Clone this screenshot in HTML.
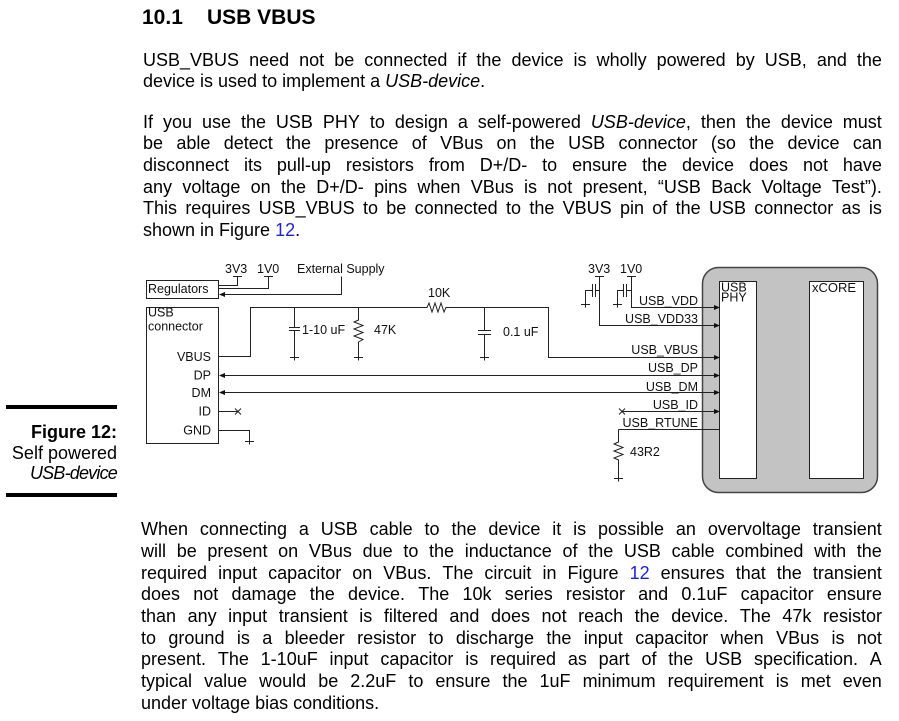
<!DOCTYPE html>
<html><head><meta charset="utf-8"><style>
html,body{margin:0;padding:0;background:#fff}
body{width:899px;height:721px;position:relative;overflow:hidden;font-family:"Liberation Sans",sans-serif;color:#000}
.t{position:absolute;font-weight:bold;font-size:21px;line-height:20px;top:8.2px;white-space:nowrap}
.l{position:absolute;left:143px;width:739px;font-size:18px;line-height:21.7px;height:21.7px;white-space:nowrap}
.p3{left:141px;width:741px}
.j{display:flex;justify-content:space-between}
.b{color:#1f1fd8}
.cap{position:absolute;left:0;width:117px;text-align:right;font-size:18px;line-height:21.7px;white-space:nowrap}
.bar{position:absolute;left:6px;width:111px;height:3.5px;background:#000}
svg{position:absolute;left:0;top:0}
</style></head><body>

<div class="t" style="left:142px">10.1</div>
<div class="t" style="left:207px">USB VBUS</div>

<div class="l j" style="top:49.6px"><span>USB_VBUS</span> <span>need</span> <span>not</span> <span>be</span> <span>connected</span> <span>if</span> <span>the</span> <span>device</span> <span>is</span> <span>wholly</span> <span>powered</span> <span>by</span> <span>USB,</span> <span>and</span> <span>the</span></div>
<div class="l" style="top:71.3px">device is used to implement a <i>USB-device</i>.</div>

<div class="l j" style="top:111.7px"><span>If</span> <span>you</span> <span>use</span> <span>the</span> <span>USB</span> <span>PHY</span> <span>to</span> <span>design</span> <span>a</span> <span>self-powered</span> <span><i>USB-device</i>,</span> <span>then</span> <span>the</span> <span>device</span> <span>must</span></div>
<div class="l j" style="top:133.4px"><span>be</span> <span>able</span> <span>detect</span> <span>the</span> <span>presence</span> <span>of</span> <span>VBus</span> <span>on</span> <span>the</span> <span>USB</span> <span>connector</span> <span>(so</span> <span>the</span> <span>device</span> <span>can</span></div>
<div class="l j" style="top:155.1px"><span>disconnect</span> <span>its</span> <span>pull-up</span> <span>resistors</span> <span>from</span> <span>D+/D-</span> <span>to</span> <span>ensure</span> <span>the</span> <span>device</span> <span>does</span> <span>not</span> <span>have</span></div>
<div class="l j" style="top:176.7px"><span>any</span> <span>voltage</span> <span>on</span> <span>the</span> <span>D+/D-</span> <span>pins</span> <span>when</span> <span>VBus</span> <span>is</span> <span>not</span> <span>present,</span> <span>“USB</span> <span>Back</span> <span>Voltage</span> <span>Test”).</span></div>
<div class="l j" style="top:198.4px"><span>This</span> <span>requires</span> <span>USB_VBUS</span> <span>to</span> <span>be</span> <span>connected</span> <span>to</span> <span>the</span> <span>VBUS</span> <span>pin</span> <span>of</span> <span>the</span> <span>USB</span> <span>connector</span> <span>as</span> <span>is</span></div>
<div class="l" style="top:220.1px">shown in Figure <span class="b">12</span>.</div>

<div class="l p3 j" style="top:519.4px"><span>When</span> <span>connecting</span> <span>a</span> <span>USB</span> <span>cable</span> <span>to</span> <span>the</span> <span>device</span> <span>it</span> <span>is</span> <span>possible</span> <span>an</span> <span>overvoltage</span> <span>transient</span></div>
<div class="l p3 j" style="top:541.1px"><span>will</span> <span>be</span> <span>present</span> <span>on</span> <span>VBus</span> <span>due</span> <span>to</span> <span>the</span> <span>inductance</span> <span>of</span> <span>the</span> <span>USB</span> <span>cable</span> <span>combined</span> <span>with</span> <span>the</span></div>
<div class="l p3 j" style="top:562.8px"><span>required</span> <span>input</span> <span>capacitor</span> <span>on</span> <span>VBus.</span> <span>The</span> <span>circuit</span> <span>in</span> <span>Figure</span> <span class="b">12</span> <span>ensures</span> <span>that</span> <span>the</span> <span>transient</span></div>
<div class="l p3 j" style="top:584.4px"><span>does</span> <span>not</span> <span>damage</span> <span>the</span> <span>device.</span> <span>The</span> <span>10k</span> <span>series</span> <span>resistor</span> <span>and</span> <span>0.1uF</span> <span>capacitor</span> <span>ensure</span></div>
<div class="l p3 j" style="top:606.1px"><span>than</span> <span>any</span> <span>input</span> <span>transient</span> <span>is</span> <span>filtered</span> <span>and</span> <span>does</span> <span>not</span> <span>reach</span> <span>the</span> <span>device.</span> <span>The</span> <span>47k</span> <span>resistor</span></div>
<div class="l p3 j" style="top:627.8px"><span>to</span> <span>ground</span> <span>is</span> <span>a</span> <span>bleeder</span> <span>resistor</span> <span>to</span> <span>discharge</span> <span>the</span> <span>input</span> <span>capacitor</span> <span>when</span> <span>VBus</span> <span>is</span> <span>not</span></div>
<div class="l p3 j" style="top:649.4px"><span>present.</span> <span>The</span> <span>1-10uF</span> <span>input</span> <span>capacitor</span> <span>is</span> <span>required</span> <span>as</span> <span>part</span> <span>of</span> <span>the</span> <span>USB</span> <span>specification.</span> <span>A</span></div>
<div class="l p3 j" style="top:671.1px"><span>typical</span> <span>value</span> <span>would</span> <span>be</span> <span>2.2uF</span> <span>to</span> <span>ensure</span> <span>the</span> <span>1uF</span> <span>minimum</span> <span>requirement</span> <span>is</span> <span>met</span> <span>even</span></div>
<div class="l p3" style="top:692.8px">under voltage bias conditions.</div>

<div class="bar" style="top:405px"></div>
<div class="cap" style="top:422.4px;font-weight:bold">Figure 12:</div>
<div class="cap" style="top:442.9px">Self powered</div>
<div class="cap" style="top:463.4px;font-style:italic;letter-spacing:-0.8px">USB-device</div>
<div class="bar" style="top:493px"></div>

<svg width="899" height="721" viewBox="0 0 899 721" font-family="Liberation Sans, sans-serif" font-size="12.5" fill="#111">
  <rect x="702.5" y="267.5" width="175" height="225" rx="16" ry="16" fill="#c3c3c3" stroke="#444" stroke-width="1.5"/>
  <rect x="719.5" y="281.5" width="37" height="197" fill="#fff" stroke="#222"/>
  <rect x="809.5" y="281.5" width="54" height="197" fill="#fff" stroke="#222"/>

  <rect x="146.5" y="280.5" width="72" height="18" fill="#fff" stroke="#222"/>
  <rect x="146.5" y="307.5" width="72" height="136" fill="#fff" stroke="#222"/>

  <g stroke="#222" stroke-width="1" fill="none">
    <path d="M233 276.5 H242 M237.5 276.5 V285.5 H218.5"/>
    <path d="M264 276.5 H273 M268.5 276.5 V288.5 H218.5"/>
    <path d="M341.5 276.5 V294.5 H220"/>
    <path d="M218.5 356.5 H250.5 V307.5 H427 L429 303 L432 312 L435 303 L438 312 L441 303 L444 312 L446 307.5 H548.5 V357.5 H716"/>
    <path d="M294.5 307.5 V327.5 M289 327.5 H300 M289 330.5 H300 M294.5 330.5 V357.5"/>
    <path d="M358.5 307.5 V320 L354 322 L363 325.5 L354 329 L363 332.5 L354 336 L363 339.5 L358.5 342 V357.5"/>
    <path d="M484.5 307.5 V330.5 M478 330.5 H491 M478 334.5 H491 M484.5 334.5 V357.5"/>
    <path d="M222 375.5 H716"/>
    <path d="M222 392.5 H716"/>
    <path d="M218.5 411.5 H238 M235 408.5 L241 414.5 M241 408.5 L235 414.5"/>
    <path d="M218.5 430.5 H249.5 V441.5"/>
    <path d="M595 276.5 H604 M599.5 276.5 V325.5 H716"/>
    <path d="M592.5 284 V297 M595.5 284 V297 M595.5 290.5 H599.5 M592.5 290.5 H585.5 V304.5"/>
    <path d="M627 276.5 H636 M631.5 276.5 V307.5 H716"/>
    <path d="M623.5 284 V297 M626.5 284 V297 M626.5 290.5 H631.5 M623.5 290.5 H617.5 V304.5"/>
    <path d="M622 411.5 H716 M619 408.5 L625 414.5 M625 408.5 L619 414.5"/>
    <path d="M618.5 429.5 H720 M618.5 429.5 V442 L614 444 L623 447.5 L614 451 L623 454.5 L614 458 L618.5 460 V478.5"/>
    <path d="M290 357.5 H299 M294.5 357.5 V360.5"/>
    <path d="M354 357.5 H363 M358.5 357.5 V360.5"/>
    <path d="M480 357.5 H489 M484.5 357.5 V360.5"/>
    <path d="M245 441.5 H254 M249.5 441.5 V444.5"/>
    <path d="M581 304.5 H590 M585.5 304.5 V307.5"/>
    <path d="M613 304.5 H622 M617.5 304.5 V307.5"/>
    <path d="M614 478.5 H623 M618.5 478.5 V481.5"/>
  </g>

  <g fill="#111" stroke="none">
    <polygon points="219,294.5 225,292 225,297"/>
    <polygon points="219,375.5 225,373 225,378"/>
    <polygon points="219,392.5 225,390 225,395"/>
    <polygon points="720,307.5 714,305 714,310"/>
    <polygon points="720,325.5 714,323 714,328"/>
    <polygon points="720,357.5 714,355 714,360"/>
    <polygon points="720,375.5 714,373 714,378"/>
    <polygon points="720,392.5 714,390 714,395"/>
    <polygon points="720,411.5 714,409 714,414"/>
  </g>

  <text x="148" y="293">Regulators</text>
  <text x="225" y="273">3V3</text>
  <text x="257" y="273">1V0</text>
  <text x="297" y="273">External Supply</text>
  <text x="148" y="316.5">USB</text>
  <text x="148" y="330.5">connector</text>
  <g text-anchor="end">
    <text x="211" y="361">VBUS</text>
    <text x="211" y="379.5">DP</text>
    <text x="211" y="397">DM</text>
    <text x="211" y="415.5">ID</text>
    <text x="211" y="434.5">GND</text>
  </g>
  <text x="302" y="334">1-10 uF</text>
  <text x="374" y="334">47K</text>
  <text x="428" y="297">10K</text>
  <text x="503" y="336">0.1 uF</text>
  <text x="588" y="273">3V3</text>
  <text x="620" y="273">1V0</text>
  <g text-anchor="end">
    <text x="698" y="305">USB_VDD</text>
    <text x="698" y="323">USB_VDD33</text>
    <text x="698" y="354">USB_VBUS</text>
    <text x="698" y="372">USB_DP</text>
    <text x="698" y="391">USB_DM</text>
    <text x="698" y="409">USB_ID</text>
    <text x="698" y="427">USB_RTUNE</text>
  </g>
  <text x="630" y="456">43R2</text>
  <text x="721" y="291.5" font-size="12.5">USB</text>
  <text x="721" y="301.5" font-size="12.5">PHY</text>
  <text x="812" y="292" font-size="13">xCORE</text>
</svg>
</body></html>
